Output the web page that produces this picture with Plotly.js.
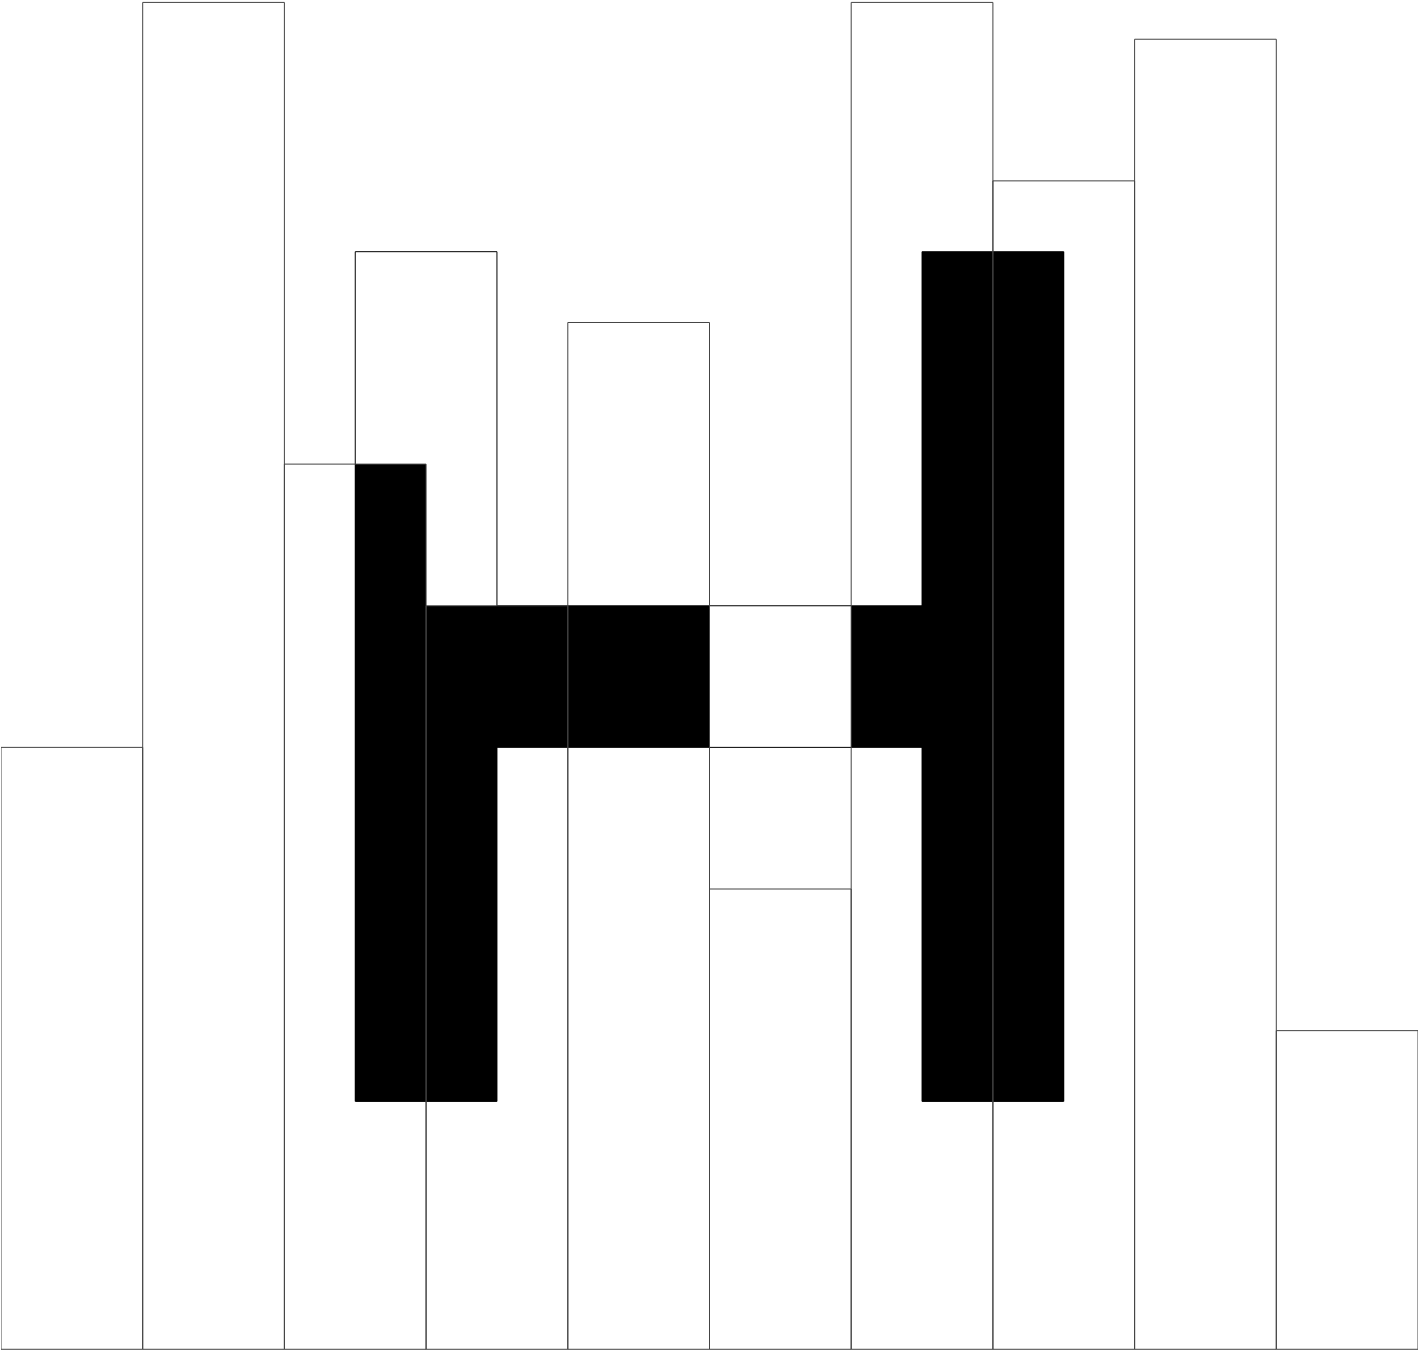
<!DOCTYPE html>
<html>
<head>
<meta charset="utf-8">
<script src="https://cdn.plot.ly/plotly-3.0.1.min.js"></script>
<style>html,body{margin:0;padding:0;background:#fff;}</style>
</head>
<body>
<div id="chart" style="width:1420px;height:1353px;"></div>
<script>
// Main bar series
const categories = [0, 1, 2, 3, 4, 5, 6, 7, 8, 9];
const values = [4.25, 9.51, 6.25, 5.25, 7.25, 3.25, 9.51, 8.25, 9.25, 2.25];

// "H" overlay segments (left column, crossbar, right column)
const hLeft = [2.0, 3.0, 6.0];
const hRight = [3.0, 6.0, 7.0];
const hBottom = [1.75, 4.25, 1.75];
const hTop = [7.75, 5.25, 7.75];

// H segments drawn as white outlined bars
const hTrace = {
  type: 'bar',
  x: hLeft.map((l, i) => (l + hRight[i]) / 2),
  y: hTop.map((t, i) => t - hBottom[i]),
  base: hBottom,
  width: hLeft.map((l, i) => hRight[i] - l),
  marker: {color: '#ffffff', line: {color: '#000000', width: 1}},
  hoverinfo: 'skip',
  showlegend: false
};

// Black pieces where the H overlaps the main bars
const bx = [], by = [], bb = [], bw = [];
for (let s = 0; s < hLeft.length; s++) {
  for (let i = 0; i < categories.length; i++) {
    const c0 = categories[i] - 0.5, c1 = categories[i] + 0.5;
    const x0 = Math.max(c0, hLeft[s]), x1 = Math.min(c1, hRight[s]);
    if (x1 <= x0) continue;
    const top = Math.min(hTop[s], values[i]);
    if (top <= hBottom[s]) continue;
    bx.push((x0 + x1) / 2);
    bw.push(x1 - x0);
    bb.push(hBottom[s]);
    by.push(top - hBottom[s]);
  }
}
const blackTrace = {
  type: 'bar',
  x: bx, y: by, base: bb, width: bw,
  marker: {color: '#000000', line: {color: '#000000', width: 0}},
  hoverinfo: 'skip',
  showlegend: false
};

// Main bars on top, transparent fill with outlines
const mainTrace = {
  type: 'bar',
  x: categories,
  y: values,
  width: 1,
  marker: {color: 'rgba(255,255,255,0)', line: {color: '#444444', width: 1}},
  showlegend: false
};

const layout = {
  width: 1420,
  height: 1353,
  margin: {l: 1, r: 2, t: 1, b: 3, pad: 0},
  paper_bgcolor: '#ffffff',
  plot_bgcolor: '#ffffff',
  barmode: 'overlay',
  bargap: 0,
  showlegend: false,
  xaxis: {range: [-0.5, 9.5], showgrid: false, zeroline: false, showticklabels: false, ticks: '', showline: false, fixedrange: true},
  yaxis: {range: [-0.005, 9.52], showgrid: false, zeroline: false, showticklabels: false, ticks: '', showline: false, fixedrange: true}
};

Plotly.newPlot('chart', [hTrace, blackTrace, mainTrace], layout, {displayModeBar: false, staticPlot: true});
</script>
</body>
</html>
